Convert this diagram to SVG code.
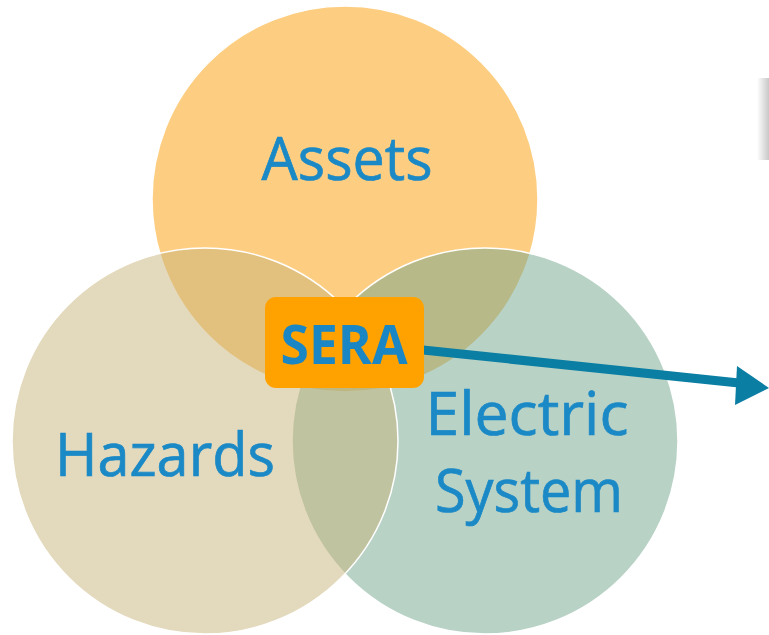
<svg xmlns="http://www.w3.org/2000/svg" width="769" height="635" viewBox="0 0 769 635">
<style>
.c{stroke:#ffffff;stroke-width:1.5}
.lbl{font-family:"Open Sans","Noto Sans",sans-serif;font-size:61px;fill:#1A89C6;stroke:#1A89C6;stroke-width:0.7;text-anchor:middle}
.sera{font-family:"Open Sans","Noto Sans",sans-serif;font-weight:bold;font-size:53px;fill:#1A87C4;text-anchor:middle}
</style>
<defs>
<linearGradient id="sh" x1="0" y1="0" x2="1" y2="0">
<stop offset="0" stop-color="#ffffff"/>
<stop offset="1" stop-color="#c8c8c8"/>
</linearGradient>
</defs>
<rect x="0" y="0" width="769" height="635" fill="#ffffff"/>
<rect x="757" y="78" width="12" height="82" fill="url(#sh)"/>
<g id="assets">
<circle class="c" cx="345" cy="199" r="193" fill="#FDCE82"/>
</g>
<g id="electric">
<circle class="c" cx="485" cy="441" r="193" fill="#71A58D" fill-opacity="0.5"/>
</g>
<g id="hazards">
<circle class="c" cx="205" cy="441" r="193" fill="#C7B379" fill-opacity="0.5"/>
</g>
<text class="lbl" x="347" y="180" textLength="171" lengthAdjust="spacingAndGlyphs">Assets</text>
<text class="lbl" x="165" y="476" textLength="220" lengthAdjust="spacingAndGlyphs">Hazards</text>
<text class="lbl" x="527" y="435" textLength="203" lengthAdjust="spacingAndGlyphs">Electric</text>
<text class="lbl" x="529" y="512" textLength="188" lengthAdjust="spacingAndGlyphs">System</text>
<g id="connectors">
<path d="M423,350 L739,383" stroke="#0B7EA3" stroke-width="9" fill="none"/>
<path d="M737,366 L769,388 L735,405 Z" fill="#0B7EA3"/>
</g>
<g id="sera">
<rect x="265" y="297" width="159" height="91" rx="11" fill="#FFA200"/>
<text class="sera" x="344" y="364" textLength="127" lengthAdjust="spacingAndGlyphs">SERA</text>
</g>
</svg>
